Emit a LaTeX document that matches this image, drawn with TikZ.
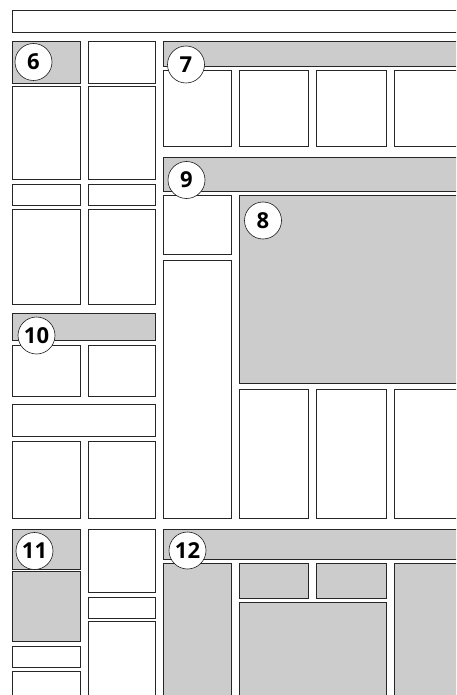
\documentclass[tikz,border=0pt]{standalone}
\usepackage{fontspec}
\setsansfont{Open Sans}
\usepackage{tikz}

\tikzset{
    panel/.style={draw=black!85, line width=0.8pt, fill=white},
    shaded/.style={panel, fill=gray!40},
    badge/.style={circle, draw=black!90, line width=0.6pt, fill=white,
        minimum size=37pt, inner sep=0pt,
        font=\sffamily\bfseries\fontsize{22}{22}\selectfont}
}

\begin{document}
\begin{tikzpicture}[x=1pt, y=-1pt]
        % Page frame
        \useasboundingbox (0,0) rectangle (456,695);
        \clip (0,0) rectangle (456,695);

        % Banner across the top
        \draw[panel] (12.5,10.5) rectangle (470,32);

        % Left column, first block (6)
        \draw[shaded] (12.5,41.5) rectangle (80,83);
        \draw[panel] (88.5,41.5) rectangle (155.5,83);
        \draw[panel] (12.5,86.5) rectangle (80,179.5);
        \draw[panel] (88.5,86.5) rectangle (155.5,179.5);
        \draw[panel] (12.5,184.5) rectangle (80,205.5);
        \draw[panel] (88.5,184.5) rectangle (155.5,205.5);
        \draw[panel] (12.5,209) rectangle (80,304.5);
        \draw[panel] (88.5,209) rectangle (155.5,304.5);

        % Left column, second block (10)
        \draw[shaded] (12.5,313.5) rectangle (155.5,340.5);
        \draw[panel] (12.5,345.5) rectangle (80,396);
        \draw[panel] (88.5,345.5) rectangle (155.5,396);
        \draw[panel] (12.5,404.5) rectangle (155.5,436);
        \draw[panel] (12.5,441.5) rectangle (80,518.5);
        \draw[panel] (88.5,441.5) rectangle (155.5,518.5);

        % Left column, third block (11)
        \draw[shaded] (12.5,529.5) rectangle (80,569.5);
        \draw[shaded] (12.5,571.5) rectangle (80,641);
        \draw[panel] (12.5,646.5) rectangle (80,667.5);
        \draw[panel] (12.5,671.5) rectangle (80,710);
        \draw[panel] (88.5,529) rectangle (155.5,592.5);
        \draw[panel] (88.5,597.5) rectangle (155.5,618.5);
        \draw[panel] (88.5,621) rectangle (155.5,710);

        % Right area, row under 7
        \draw[shaded] (163.5,41.5) rectangle (470,66);
        \foreach \xa/\xb in {163.5/231, 239.5/308, 316/386, 394/470}
            \draw[panel] (\xa,70.5) rectangle (\xb,146.5);

        % Right area, block 9 with the large panel 8
        \draw[shaded] (163.5,157.5) rectangle (470,191);
        \draw[panel] (163.5,195) rectangle (231,254.5);
        \draw[shaded] (239.5,195.5) rectangle (470,383.5);
        \draw[panel] (163.5,260) rectangle (231,518.5);
        \foreach \xa/\xb in {239.5/308, 316/386, 394/470}
            \draw[panel] (\xa,389) rectangle (\xb,518.5);

        % Right area, block 12
        \draw[shaded] (163.5,529.5) rectangle (470,559.5);
        \draw[shaded] (163.5,563.5) rectangle (231,710);
        \draw[shaded] (239.5,563.5) rectangle (308,598.5);
        \draw[shaded] (316,563.5) rectangle (386,598.5);
        \draw[shaded] (239.5,602.5) rectangle (386,710);
        \draw[shaded] (394,563.5) rectangle (470,710);

        % Numbered badges
        \node[badge] (n6) at (33.5,62) {6};
        \node[badge] (n7) at (186,64.5) {7};
        \node[badge] (n9) at (186.5,180) {9};
        \node[badge] (n8) at (263,220.5) {8};
        \node[badge] (n10) at (36.5,335.5) {10};
        \node[badge] (n11) at (34.5,551) {11};
        \node[badge] (n12) at (187.5,550.5) {12};
    \end{tikzpicture}
\end{document}
